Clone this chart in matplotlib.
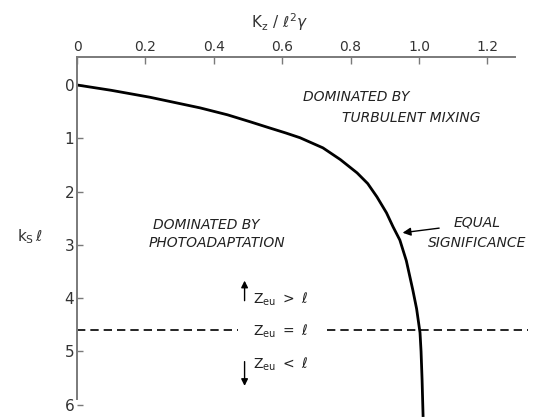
import matplotlib
matplotlib.use("Agg")
import matplotlib.pyplot as plt

# Equal-significance curve (K_z / l^2 gamma vs k_s l)
curve_x = [0.0, 0.10, 0.213, 0.36, 0.44, 0.506, 0.56, 0.61, 0.652, 0.719, 0.77, 0.819,
           0.85, 0.877, 0.905, 0.924, 0.944, 0.963, 0.982, 0.993, 1.003, 1.006, 1.009, 1.012]
curve_y = [0.0, 0.10, 0.23, 0.43, 0.56, 0.69, 0.80, 0.90, 0.99, 1.18, 1.40, 1.65,
           1.85, 2.10, 2.40, 2.66, 2.91, 3.30, 3.85, 4.20, 4.65, 5.00, 5.53, 6.23]

# Z_eu = l line at k_s l = 4.6
zeu_level = 4.6
x_ticks = [0, 0.2, 0.4, 0.6, 0.8, 1.0, 1.2]
x_ticklabels = ["0", "0.2", "0.4", "0.6", "0.8", "1.0", "1.2"]
y_ticks = [0, 1, 2, 3, 4, 5, 6]

W, H = 537, 418
fig = plt.figure(figsize=(W / 100, H / 100), dpi=100)
ax = fig.add_axes([77 / W, 0.0, 1.28 * 342 / W, 1 - 57 / H])
ax.set_xlim(0, 1.28)
ax.set_ylim(6.25, -0.525)

axis_col = "#7a7a7a"
txt_col = "#333333"
for s in ["right", "bottom"]:
    ax.spines[s].set_visible(False)
for s in ["top", "left"]:
    ax.spines[s].set_color(axis_col)
    ax.spines[s].set_linewidth(1.4)
ax.spines["left"].set_bounds(-0.525, 5.9)

ax.xaxis.tick_top()
ax.set_xticks(x_ticks)
ax.set_xticklabels(x_ticklabels)
ax.set_yticks(y_ticks)
ax.tick_params(axis="x", direction="in", length=5, width=1.0, color=axis_col,
               labelsize=10, labelcolor=txt_col, pad=2)
ax.tick_params(axis="y", direction="in", length=4, width=1.0, color=axis_col,
               labelsize=11, labelcolor=txt_col, pad=2)

ax.plot(curve_x, curve_y, color="black", lw=2.0, clip_on=False,
        solid_capstyle="butt", solid_joinstyle="round")

dash = dict(color="black", lw=1.2, ls=(0, (5, 3)), clip_on=False)
ax.plot([0, 0.47], [zeu_level, zeu_level], **dash)
ax.plot([0.73, 1.32], [zeu_level, zeu_level], **dash)

tkw = dict(fontsize=10, style="italic", color="#222222", ha="center", va="center")
ax.text(0.816, 0.23, "DOMINATED BY", **tkw)
ax.text(0.977, 0.62, "TURBULENT MIXING", **tkw)
ax.text(0.377, 2.63, "DOMINATED BY", **tkw)
ax.text(0.41, 2.96, "PHOTOADAPTATION", **tkw)
ax.text(1.17, 2.59, "EQUAL", **tkw)
ax.text(1.17, 2.96, "SIGNIFICANCE", clip_on=False, **tkw)
ax.annotate("", xy=(0.944, 2.78), xytext=(1.067, 2.68),
            arrowprops=dict(arrowstyle="-|>", color="black", lw=1.0, mutation_scale=12))

zkw = dict(fontsize=10, color="#222222", ha="left", va="center")
ax.text(0.515, 4.03, r"$\mathrm{Z_{eu}}\ >\ \ell$", **zkw)
ax.text(0.515, 4.62, r"$\mathrm{Z_{eu}}\ =\ \ell$", **zkw)
ax.text(0.515, 5.25, r"$\mathrm{Z_{eu}}\ <\ \ell$", **zkw)
ax.annotate("", xy=(0.49, 3.62), xytext=(0.49, 4.1),
            arrowprops=dict(arrowstyle="-|>", color="black", lw=1.0, mutation_scale=10))
ax.annotate("", xy=(0.49, 5.7), xytext=(0.49, 5.14),
            arrowprops=dict(arrowstyle="-|>", color="black", lw=1.0, mutation_scale=10))

fig.text(280 / W, 1 - 22 / H, r"$\mathrm{K_z}\ /\ \ell^2\gamma$", fontsize=11,
         color=txt_col, ha="center", va="center")
fig.text(30 / W, 1 - 237 / H, r"$\mathrm{k_S}\,\ell$", fontsize=11,
         color=txt_col, ha="center", va="center")

fig.savefig("out.png", dpi=100)
